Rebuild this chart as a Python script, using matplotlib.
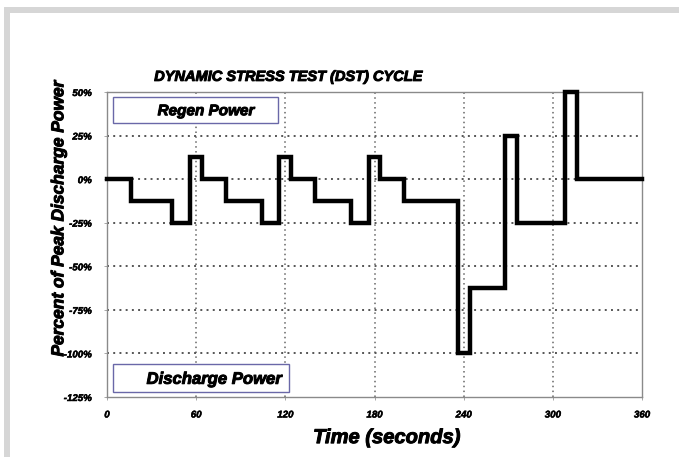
import matplotlib
matplotlib.use("Agg")
import matplotlib.pyplot as plt
import matplotlib.patheffects as pe
from matplotlib.patches import Rectangle

# --- donnees du cycle DST ---
temps = [0, 16, 44, 56, 64, 80, 104, 116, 124, 140, 164, 176, 184, 200,
         236, 244, 268, 276, 308, 316, 360]
puissance = [0, -12.5, -25, 12.5, 0, -12.5, -25, 12.5, 0, -12.5, -25, 12.5, 0,
             -12.5, -100, -62.5, 25, -25, 50, 0, 0]

xticks = [0, 60, 120, 180, 240, 300, 360]
yticks = [50, 25, 0, -25, -50, -75, -100, -125]
ylabels = ['50%', '25%', '0%', '-25%', '-50%', '-75%', '-100%', '-125%']

plt.rcParams['font.family'] = ['Liberation Sans', 'DejaVu Sans']

# contour pour epaissir les textes (police type "Arial Black")
gras = [pe.withStroke(linewidth=0.7, foreground='black')]
gras_fin = [pe.withStroke(linewidth=0.35, foreground='black')]

fig = plt.figure(figsize=(6.79, 4.57), dpi=100)

# cadre gris (seuls les bords haut et gauche sont visibles)
fig.patches.append(Rectangle((6.5/679, -0.5), 2, 1.5 - 10/457, transform=fig.transFigure,
                             facecolor='none', edgecolor='#d6d6d6', linewidth=4.3))

ax = fig.add_axes([107/679, 60/457, 535/679, 305/457])

ax.plot(temps, puissance, drawstyle='steps-post', color='black', linewidth=3.2,
        solid_joinstyle='miter', clip_on=False, zorder=3)

ax.set_xlim(0, 360)
ax.set_ylim(-125, 50)
ax.set_xticks(xticks)
ax.set_yticks(yticks)
ax.set_yticklabels(ylabels)

for t in [60, 120, 180, 240, 300]:
    ax.axvline(t, color='#666666', linestyle=(0, (1, 2.2)), linewidth=1.1, zorder=1)
for v in [25, 0, -25, -50, -75, -100]:
    ax.axhline(v, color='#555555', linestyle=(0, (1, 2.2)), linewidth=1.4, zorder=1)

for s in ax.spines.values():
    s.set_color('#8a8a8a')
    s.set_linewidth(1.0)

ax.tick_params(axis='both', length=2, width=0.6, color='#999999')
ax.tick_params(axis='y', pad=9)
ax.tick_params(axis='x', pad=7)
for lab in ax.get_xticklabels() + ax.get_yticklabels():
    lab.set_fontsize(7)
    lab.set_fontweight('bold')
    lab.set_fontstyle('italic')
    lab.set_path_effects(gras_fin)

ax.set_title('DYNAMIC STRESS TEST (DST) CYCLE', fontsize=10.5, fontweight='bold',
             fontstyle='italic', x=0.34, pad=8, path_effects=gras)
ax.set_xlabel('Time (seconds)', fontsize=14.5, fontweight='bold', fontstyle='italic',
              path_effects=gras)
ax.xaxis.set_label_coords(0.523, -0.102)
ax.set_ylabel('Percent of Peak Discharge Power', fontsize=12.5, fontweight='bold',
              fontstyle='italic', path_effects=gras)
ax.yaxis.set_label_coords(-0.076, 0.585)

# boites "Regen" / "Discharge"
ax.add_patch(Rectangle((0.011, 0.898), 0.309, 0.086, transform=ax.transAxes,
                       facecolor='white', edgecolor='#6a68a8', linewidth=1.0, zorder=4))
ax.text(0.185, 0.937, 'Regen Power', transform=ax.transAxes, ha='center', va='center',
        fontsize=11, fontweight='bold', fontstyle='italic', path_effects=gras, zorder=5)
ax.add_patch(Rectangle((0.011, 0.016), 0.329, 0.092, transform=ax.transAxes,
                       facecolor='white', edgecolor='#6a68a8', linewidth=1.0, zorder=4))
ax.text(0.20, 0.058, 'Discharge Power', transform=ax.transAxes, ha='center', va='center',
        fontsize=12, fontweight='bold', fontstyle='italic', path_effects=gras, zorder=5)

fig.savefig('out.png', dpi=100)
